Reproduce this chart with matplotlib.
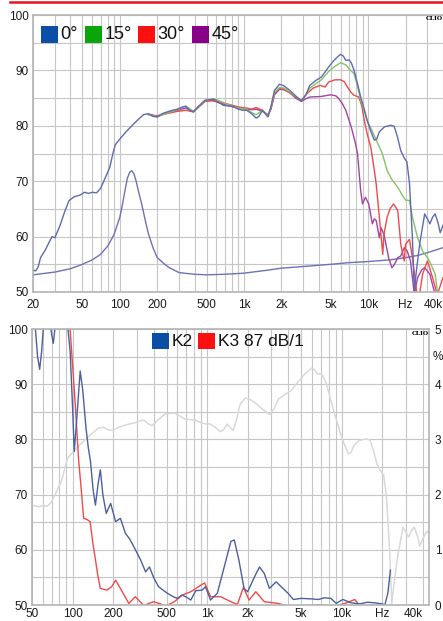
import matplotlib
matplotlib.use("Agg")
import matplotlib.pyplot as plt
from matplotlib.patches import Rectangle
from matplotlib.lines import Line2D
from matplotlib.ticker import LogLocator, FixedLocator, NullFormatter, MultipleLocator

plt.rcParams['font.family'] = ['Liberation Sans', 'DejaVu Sans']

# ---- top chart: frequency response at 4 angles + impedance ----
freq_0 = [20, 21, 22, 23, 25, 27, 28.5, 30, 33, 36, 39, 43, 48, 52, 56, 60, 65, 70, 76, 83,
          88, 92, 100, 113, 125, 137, 155, 170, 185, 200, 220, 240, 265, 290, 320, 340, 365,
          392, 430, 486, 530, 570, 620, 680, 750, 816, 900, 977, 1050, 1150, 1250, 1320, 1410,
          1480, 1560, 1650, 1760, 1930, 2100, 2340, 2600, 2900, 3150, 3390, 3800, 4200, 4800,
          5300, 5700, 6000, 6300, 6600, 7000, 7300, 7700, 8200, 8700, 9300, 9800, 10500, 11200,
          11700, 12300, 13500, 15200, 16200, 17200, 18300, 19500, 20500, 21500, 22700, 23500,
          24500, 26000, 28500, 30000, 31400, 33000, 34600, 36500, 38000, 40000, 43000, 47000]
spl_0 = [54.0, 53.8, 54.5, 56.2, 57.5, 59.0, 60.0, 59.8, 62.0, 64.5, 66.5, 67.2, 67.5, 68.0, 67.8,
         68.0, 67.9, 68.7, 70.5, 72.5, 75.0, 76.6, 77.6, 79.0, 80.0, 80.9, 82.0, 82.2, 81.7, 81.6,
         82.2, 82.5, 82.8, 83.0, 83.4, 83.5, 82.8, 82.5, 83.5, 84.6, 84.7, 84.8, 84.3, 83.7, 83.6,
         83.5, 83.0, 82.8, 82.8, 82.2, 81.4, 81.7, 82.8, 82.2, 81.6, 83.5, 86.4, 87.5, 87.2, 86.4,
         85.4, 84.5, 85.6, 87.3, 88.2, 88.8, 90.6, 91.8, 92.5, 92.9, 92.6, 91.8, 91.9, 91.4, 90.0,
         87.6, 85.2, 83.0, 81.0, 79.0, 77.4, 77.6, 78.9, 79.8, 80.1, 79.9, 78.0, 75.5, 74.2, 73.5,
         69.6, 59.8, 50.2, 54.0, 58.7, 64.1, 63.2, 62.3, 63.5, 64.1, 62.5, 60.7, 62.0, 63.4, 62.0]

freq_15 = [170, 200, 240, 290, 340, 392, 486, 560, 620, 750, 900, 1050, 1150, 1250, 1410, 1560,
           1650, 1760, 1930, 2100, 2340, 2600, 2900, 3150, 3390, 3800, 4200, 4800, 5300, 6000,
           6600, 7000, 7700, 8200, 8700, 9300, 9800, 11000, 13000, 14200, 15500, 17300, 19000,
           20000, 21500, 22700, 25000, 27400, 30000, 32000, 34600, 36000, 38000]
spl_15 = [82.0, 81.6, 82.3, 82.9, 83.6, 82.6, 84.5, 84.9, 84.6, 83.8, 83.2, 83.0, 82.4, 82.0, 82.8,
          81.7, 83.4, 86.0, 86.9, 86.8, 86.1, 85.3, 84.6, 85.6, 86.8, 87.6, 88.3, 89.8, 90.6, 91.4,
          91.0, 90.3, 89.4, 87.2, 84.6, 82.6, 81.0, 78.6, 75.0, 71.9, 70.3, 68.9, 67.3, 66.6, 66.5,
          63.5, 59.8, 57.4, 56.2, 55.0, 53.2, 50.2, 48.0]

freq_30 = [170, 200, 240, 290, 340, 392, 486, 560, 620, 750, 900, 1050, 1150, 1250, 1410, 1560,
           1650, 1760, 1930, 2100, 2340, 2600, 2900, 3150, 3600, 4100, 4500, 4800, 5400, 6000,
           6400, 6800, 7300, 7700, 8400, 8900, 9300, 9800, 10500, 10800, 11200, 11600, 12300,
           13100, 13400, 14200, 15000, 16000, 17300, 18300, 19500, 20000, 21500, 22700, 24500,
           25500, 27400, 30000, 33000, 36000, 40000, 44000]
spl_30 = [82.0, 81.8, 82.2, 82.6, 82.8, 82.5, 84.4, 84.5, 84.3, 83.9, 83.4, 83.2, 83.0, 83.3, 82.8,
          81.8, 83.2, 85.9, 86.8, 86.6, 85.9, 85.2, 84.5, 85.6, 86.8, 87.3, 87.0, 87.9, 88.3, 88.3,
          88.0, 87.0, 86.0, 85.5, 85.2, 83.5, 81.0, 78.6, 76.1, 74.3, 72.0, 69.5, 63.5, 56.8, 60.4,
          63.5, 65.0, 65.9, 64.7, 58.6, 55.6, 58.6, 59.5, 56.2, 50.2, 48.5, 53.2, 55.6, 52.6, 49.5,
          52.6, 50.0]

freq_45 = [170, 200, 240, 290, 340, 392, 486, 560, 620, 750, 900, 1050, 1150, 1250, 1410, 1560,
           1650, 1760, 1930, 2100, 2340, 2600, 2900, 3150, 3400, 4200, 5000, 5500, 5800, 6200,
           6600, 7300, 7900, 8200, 8700, 9000, 9500, 10100, 10800, 11200, 11600, 12300, 12700,
           13400, 14600, 15500, 16300, 17300, 18300, 19500, 20600, 21900, 23000, 23500, 25000,
           27000, 28500, 31400, 34600]
spl_45 = [82.1, 81.7, 82.4, 82.8, 83.2, 82.6, 84.6, 84.6, 84.2, 83.6, 83.2, 83.0, 82.9, 83.0, 82.6,
          82.0, 83.0, 85.6, 86.6, 86.5, 86.0, 85.0, 84.4, 84.9, 85.2, 85.3, 85.6, 85.4, 84.9, 84.0,
          82.8, 79.8, 76.8, 75.0, 68.3, 65.9, 67.1, 65.9, 62.3, 63.2, 62.9, 59.8, 61.6, 60.4, 56.2,
          54.4, 55.0, 56.2, 56.5, 58.0, 57.4, 55.6, 51.5, 49.5, 52.6, 54.0, 54.4, 53.2, 49.5]

freq_imp = [20, 30, 40, 50, 60, 70, 80, 90, 100, 105, 110, 115, 120, 125, 130, 135, 142, 150, 160,
            170, 185, 200, 230, 250, 300, 400, 500, 700, 1000, 1500, 2000, 3000, 5000, 7000,
            10000, 15000, 20000, 25000, 30000, 40000, 50000]
imp = [53.1, 53.6, 54.2, 55.0, 55.8, 56.8, 58.3, 60.4, 63.5, 65.8, 68.3, 70.5, 71.6, 71.9, 71.3,
       70.1, 68.0, 65.9, 63.0, 60.5, 58.0, 56.2, 55.0, 54.4, 53.5, 53.2, 53.1, 53.2, 53.4, 53.9,
       54.3, 54.6, 55.0, 55.3, 55.5, 55.8, 56.2, 56.6, 57.1, 58.0, 58.8]

# ---- bottom chart: distortion ----
freq_k2 = [50, 53, 55, 57, 59, 61, 66, 70, 72, 74, 80, 90, 96, 100, 103, 107, 114, 119, 126, 131,
           136, 142, 148, 155, 161, 168, 178, 192, 209, 227, 247, 265, 285, 320, 349, 373, 400,
           436, 508, 560, 601, 650, 694, 756, 824, 919, 972, 1020, 1060, 1190, 1340, 1500, 1590,
           1720, 1880, 2000, 2250, 2450, 2660, 2900, 3260, 3660, 4000, 4370, 5000, 6000, 6700,
           7400, 8300, 9100, 10200, 11700, 13600, 15500, 17500, 20000, 20900, 22000, 23000]
k2 = [106, 100, 95, 92.7, 96, 101, 104, 99, 97.4, 100, 104, 103, 96, 86, 77.8, 83, 92.4, 89, 82,
      78.5, 76, 71, 68.1, 72, 74.5, 70, 66.6, 68.4, 65.1, 65.7, 63.0, 62.0, 60.6, 58.2, 56.0, 56.9,
      55.0, 53.3, 52.1, 51.5, 51.2, 51.8, 51.5, 50.9, 52.6, 52.7, 53.3, 52.0, 50.9, 52.1, 56.9,
      61.5, 61.8, 58.2, 53.0, 52.4, 55.1, 56.9, 55.7, 53.0, 54.2, 53.0, 52.1, 51.0, 51.2, 51.1,
      51.0, 51.3, 51.2, 50.3, 51.0, 50.4, 50.2, 50.5, 50.4, 50.2, 50.0, 52.1, 56.3]

freq_k3 = [90, 96, 105, 111, 117, 121, 128, 135, 142, 148, 155, 161, 180, 195, 209, 234, 262, 293,
           338, 370, 401, 450, 492, 571, 654, 756, 899, 958, 1060, 1260, 1500, 1680, 1860, 2050,
           2300, 2660, 3340, 4000, 5000, 6700, 8900, 10600, 12500, 13700]
k3 = [104, 100, 86, 76.3, 70, 65.7, 65.5, 65.1, 61, 58.2, 55, 53.0, 52.7, 53.3, 54.5, 52.4, 50.3,
      51.5, 49.9, 50.3, 50.6, 50.2, 49.8, 50.6, 51.8, 52.4, 53.6, 54.0, 51.5, 51.5, 50.6, 50.1,
      53.2, 50.9, 52.4, 50.6, 50.3, 49.8, 49.8, 50.0, 49.8, 50.3, 51.0, 49.8]

top_ticks = [20, 50, 100, 200, 500, 1000, 2000, 5000, 10000, 20000, 40000]
top_labels = ['20', '50', '100', '200', '500', '1k', '2k', '5k', '10k', 'Hz', '40k']
bot_ticks = [50, 100, 200, 500, 1000, 2000, 5000, 10000, 20000, 40000]
bot_labels = ['50', '100', '200', '500', '1k', '2k', '5k', '10k', 'Hz', '40k']
pct_ticks = [0, 1, 2, 3, 4, 5]

W, H = 443, 621
fig = plt.figure(figsize=(W / 100, H / 100), dpi=100)

def px(x0, y0, x1, y1):
    # pixel box -> figure fraction rect
    return [x0 / W, 1 - y1 / H, (x1 - x0) / W, (y1 - y0) / H]

grid_c = '#c6c6c6'

def style(ax, xmin, xmax, ticks, labels, xpad):
    ax.set_xscale('log')
    ax.set_xlim(xmin, xmax)
    ax.set_ylim(50, 100)
    ax.xaxis.set_major_locator(FixedLocator(ticks))
    ax.set_xticklabels(labels)
    ax.xaxis.set_minor_locator(LogLocator(base=10, subs=range(1, 10), numticks=20))
    ax.xaxis.set_minor_formatter(NullFormatter())
    ax.yaxis.set_major_locator(MultipleLocator(10))
    ax.yaxis.set_minor_locator(MultipleLocator(5))
    ax.grid(which='both', axis='x', color=grid_c, lw=0.8)
    ax.grid(which='both', axis='y', color=grid_c, lw=0.8)
    ax.set_axisbelow(True)
    ax.tick_params(which='both', length=0)
    ax.tick_params(axis='x', pad=xpad, labelsize=8.5, colors='#1a1a1a')
    ax.tick_params(axis='y', pad=3, labelsize=8.5, colors='#1a1a1a')
    for s in ax.spines.values():
        s.set_color('#b4b4b4')
        s.set_linewidth(1.2)
    ax.xaxis.get_majorticklabels()[-1].set_horizontalalignment('right')

# top panel
ax1 = fig.add_axes(px(33, 15, 455, 292))
style(ax1, 20, 50000, top_ticks, top_labels, 5)
lw = 1.0
ax1.plot(freq_imp, imp, color='#6d72b4', lw=lw)
ax1.plot(freq_45, spl_45, color='#a244a2', lw=lw)
ax1.plot(freq_30, spl_30, color='#ef4a4a', lw=lw)
ax1.plot(freq_15, spl_15, color='#86c166', lw=lw)
ax1.plot(freq_0, spl_0, color='#5d6cb0', lw=lw)

# bottom panel
ax2 = fig.add_axes(px(32, 329, 429, 605))
style(ax2, 50, 44500, bot_ticks, bot_labels, 2)
ax2.plot(freq_0, spl_0, color='#d9d9d9', lw=1.1)
ax2.plot(freq_k3, k3, color='#f04a4a', lw=lw)
ax2.plot(freq_k2, k2, color='#4d5f9e', lw=lw)
ax2r = ax2.twinx()
ax2r.set_ylim(0, 5)
ax2r.set_yticks(pct_ticks)
ax2r.tick_params(length=0, pad=4, labelsize=8.5, colors='#1a1a1a')
for s in ax2r.spines.values():
    s.set_visible(False)
ax2r.text(1.01, 0.9, '%', transform=ax2.transAxes, fontsize=8.5, color='#1a1a1a', va='center')

# legends
leg_font = ['Liberation Sans Narrow', 'Liberation Sans', 'DejaVu Sans']
def legend_row(entries, y0, size, fsz):
    for x0, color, label in entries:
        fig.add_artist(Rectangle((x0 / W, 1 - (y0 + size) / H), size / W, size / H,
                                 transform=fig.transFigure, color=color, lw=0))
        fig.text((x0 + size + 3) / W, 1 - (y0 + size / 2 + 0.5) / H, label,
                 family=leg_font, fontsize=fsz, va='center', color='#111111')

legend_row([(41, '#0a4ea6', '0°'), (85, '#0aa50a', '15°'), (138, '#ff1010', '30°'),
            (192, '#880088', '45°')], 26, 16.7, 13)
legend_row([(152, '#0a4ea6', 'K2'), (198, '#ff1010', 'K3 87 dB/1')], 333, 16.5, 12.5)

# CLIO marks
fig.text(426 / W, 1 - 18 / H, 'CLIO', family='DejaVu Serif', fontsize=4.3, weight='bold', va='center')
fig.text(412 / W, 1 - 333 / H, 'CLIO', family='DejaVu Serif', fontsize=4.3, weight='bold', va='center')

# red rule at the top
fig.add_artist(Line2D([10 / W, 1], [1 - 2 / H, 1 - 2 / H], color='#e8141c', lw=1.8,
                      transform=fig.transFigure))

fig.savefig('out.png', dpi=100, facecolor='white')
